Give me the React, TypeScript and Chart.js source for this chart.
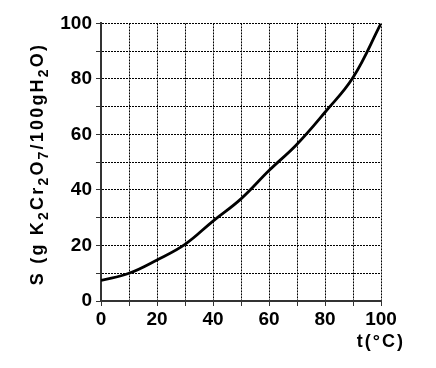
import React, { useEffect, useRef } from "react";
import { Chart, registerables } from "chart.js";

Chart.register(...registerables);

const temperatures = [0, 10, 20, 30, 40, 50, 60, 70, 80, 90, 100];
const solubility = [7.4, 10, 14.8, 20.4, 28.8, 36.8, 47, 56.5, 68, 80.5, 100];
const yTitleParts: [string, boolean][] = [
  ["S (g K", false], ["2", true], ["Cr", false], ["2", true], ["O", false], ["7", true],
  ["/100gH", false], ["2", true], ["O)", false],
];
const xTitle = "t(°C)";

const FONT = "'Liberation Sans', Arial, sans-serif";

function drawRich(ctx: CanvasRenderingContext2D, parts: [string, boolean][], cx: number, cy: number, size: number) {
  const subSize = Math.round(size * 0.8);
  let total = 0;
  const widths = parts.map(([t, sub]) => {
    ctx.font = `bold ${sub ? subSize : size}px ${FONT}`;
    const w = ctx.measureText(t).width;
    total += w;
    return w;
  });
  let x = cx - total / 2;
  ctx.textBaseline = "middle";
  ctx.textAlign = "left";
  parts.forEach(([t, sub], i) => {
    ctx.font = `bold ${sub ? subSize : size}px ${FONT}`;
    ctx.fillText(t, x, cy + (sub ? size * 0.32 : 0));
    x += widths[i];
  });
}

const titlePlugin = {
  id: "axisTitles",
  afterDraw(chart: any) {
    const ctx = chart.ctx as CanvasRenderingContext2D;
    ctx.save();
    ctx.fillStyle = "#000";
    (ctx as any).letterSpacing = "2.2px";
    ctx.translate(30, 156);
    ctx.rotate(-Math.PI / 2);
    drawRich(ctx, yTitleParts, 0, 0, 18);
    ctx.restore();

    ctx.save();
    ctx.fillStyle = "#000";
    (ctx as any).letterSpacing = "2px";
    ctx.font = `bold 18px ${FONT}`;
    ctx.textAlign = "right";
    ctx.textBaseline = "middle";
    ctx.fillText(xTitle, 397, 334);
    ctx.restore();
  },
};

export default function App() {
  const ref = useRef<HTMLCanvasElement>(null);
  useEffect(() => {
    if (!ref.current) return;
    const tickFont = { family: FONT, size: 19, weight: "bold" as const };
    const gridOpts: any = {
      color: "#000",
      lineWidth: 1,
      tickLength: 5,
      tickBorderDash: [],
      tickColor: "#333",
    };
    const chart = new Chart(ref.current, {
      type: "line",
      data: {
        datasets: [
          {
            data: temperatures.map((t, i) => ({ x: t, y: solubility[i] })),
            borderColor: "#000",
            borderWidth: 2.8,
            pointRadius: 0,
            tension: 0.4,
            fill: false,
          },
        ],
      },
      options: {
        animation: false,
        responsive: false,
        layout: { padding: { top: 13, right: 47, left: 0, bottom: 0 } },
        plugins: { legend: { display: false }, tooltip: { enabled: false } },
        scales: {
          x: {
            type: "linear",
            min: 0,
            max: 100,
            afterFit: (s: any) => { s.height = 59; },
            ticks: {
              stepSize: 10,
              color: "#000",
              font: tickFont,
              padding: 2,
              maxRotation: 0,
              autoSkip: false,
              callback: (v: any) => (Number(v) % 20 === 0 ? String(v) : ""),
            },
            grid: gridOpts,
            border: { display: true, color: "#333", width: 2, dash: [2, 1] } as any,
          },
          y: {
            type: "linear",
            min: 0,
            max: 100,
            afterFit: (s: any) => { s.width = 93; },
            ticks: {
              stepSize: 10,
              color: "#000",
              font: tickFont,
              padding: 4,
              autoSkip: false,
              callback: (v: any) => (Number(v) % 20 === 0 ? String(v) : ""),
            },
            grid: gridOpts,
            border: { display: true, color: "#333", width: 2, dash: [2, 1] } as any,
          },
        },
      },
      plugins: [titlePlugin],
    });
    return () => chart.destroy();
  }, []);
  return <canvas ref={ref} width={420} height={352} style={{ display: "block" }} />;
}
